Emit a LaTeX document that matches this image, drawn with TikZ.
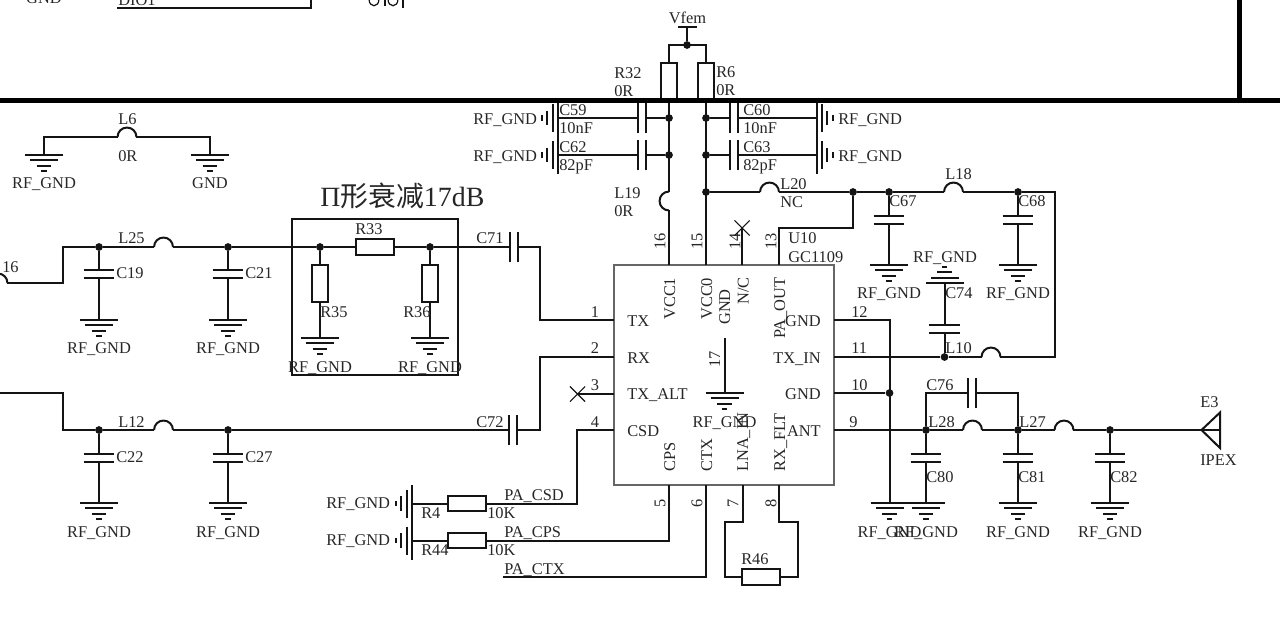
\documentclass[tikz,border=0pt]{standalone}
\usepackage{fontspec}
\setmainfont{Liberation Serif}
\newfontfamily\cjk{Noto Sans CJK SC}
\usetikzlibrary{shapes.misc}
\definecolor{ink}{HTML}{141414}
\definecolor{txt}{HTML}{262626}
\definecolor{icgray}{HTML}{666666}
\makeatletter
\pgfdeclareshape{capsym}{
  \anchor{center}{\pgfpointorigin}
  \anchor{text}{\pgfpointorigin}
  \anchor{a}{\pgfqpoint{0pt}{3pt}}
  \anchor{b}{\pgfqpoint{0pt}{-3pt}}
  \backgroundpath{
    \pgfpathmoveto{\pgfqpoint{-11.6pt}{3pt}}\pgfpathlineto{\pgfqpoint{11.6pt}{3pt}}
    \pgfpathmoveto{\pgfqpoint{-11.6pt}{-3pt}}\pgfpathlineto{\pgfqpoint{11.6pt}{-3pt}}
  }
}
\pgfdeclareshape{indsym}{
  \anchor{center}{\pgfpointorigin}
  \anchor{text}{\pgfpointorigin}
  \anchor{west}{\pgfqpoint{-7.1pt}{0pt}}
  \anchor{east}{\pgfqpoint{7.1pt}{0pt}}
  \backgroundpath{
    \pgfpathmoveto{\pgfqpoint{-7.1pt}{0pt}}
    \pgfpatharc{180}{0}{7.1pt}
  }
}
\pgfdeclareshape{gndsym}{
  \anchor{center}{\pgfpointorigin}
  \anchor{text}{\pgfpointorigin}
  \backgroundpath{
    \pgfpathmoveto{\pgfqpoint{-14.25pt}{0pt}}\pgfpathlineto{\pgfqpoint{14.25pt}{0pt}}
    \pgfpathmoveto{\pgfqpoint{-10.5pt}{-3.9pt}}\pgfpathlineto{\pgfqpoint{10.5pt}{-3.9pt}}
    \pgfpathmoveto{\pgfqpoint{-5.6pt}{-8.2pt}}\pgfpathlineto{\pgfqpoint{5.6pt}{-8.2pt}}
    \pgfpathmoveto{\pgfqpoint{-1.9pt}{-12pt}}\pgfpathlineto{\pgfqpoint{1.9pt}{-12pt}}
  }
}
\makeatother
\tikzset{
  wire/.style={draw=ink,line width=1.5pt,line join=miter},
  bus/.style={draw=black,line width=3.75pt},
  dot/.style={circle,fill=ink,inner sep=0pt,minimum size=5.8pt},
  capv/.style={shape=capsym,draw=ink,line width=1.5pt},
  caph/.style={capv,rotate=90},
  indh/.style={shape=indsym,draw=ink,line width=1.5pt},
  indv/.style={indh,rotate=90},
  gnd/.style={shape=gndsym,draw=ink,line width=1.5pt},
  resv/.style={rectangle,draw=ink,fill=white,line width=1.5pt,inner sep=0pt,minimum width=11.4pt,minimum height=28pt},
  resh/.style={rectangle,draw=ink,fill=white,line width=1.5pt,inner sep=0pt,minimum width=28.5pt,minimum height=11.4pt},
  nc/.style={cross out,draw=ink,line width=.8pt,inner sep=0pt,minimum size=10.5pt},
  tl/.style={anchor=base west,inner sep=0pt,text=txt,font=\fontsize{12.3}{14}\selectfont},
  tc/.style={tl,anchor=base},
  tr/.style={tl,anchor=base east},
  tv/.style={tl,rotate=90},
  tm/.style={tl,anchor=center,rotate=90},
}
\begin{document}
\begin{tikzpicture}[x=0.75pt,y=-0.75pt]
\useasboundingbox (0,0) rectangle (1280,643);

% --- top fragments
\coordinate (topA) at (117,8); \coordinate (topB) at (311,8); \coordinate (topC) at (311,-2);
\draw[wire] (topA) -- (topB) -- (topC);
\node[tc] (fragGND) at (44,3) {GND};
\node[tl] (fragDIO) at (118,5) {DIO1};
\draw[draw=ink,line width=.9pt] (369,-1) .. controls (369,8) and (379,8) .. (379,-1);
\draw[draw=ink,line width=.9pt] (388,-1) .. controls (388,8) and (398,8) .. (398,-1);
\draw[draw=ink,line width=.9pt] (385,-1) -- (385,6);
\draw[draw=ink,line width=.9pt] (403,-1) -- (403,8);

% --- IC
\node[rectangle,draw=icgray,fill=white,line width=1.5pt,minimum size=165pt,inner sep=0pt] (ic) at (724,375) {};

% --- Vfem and supply
\coordinate (vbarL) at (678,27); \coordinate (vbarR) at (697,27); \coordinate (vtop) at (687,27);
\node[dot] (dV) at (687,45) {};
\coordinate (vL) at (669,45); \coordinate (vR) at (706,45);
\node[resv] (R32) at (669,81.5) {};
\node[resv] (R6) at (706,81.5) {};
\draw[wire] (vbarL) -- (vbarR);
\draw[wire] (vtop) -- (dV);
\draw[wire] (R32.north) -- (vL) -- (vR) -- (R6.north);
\node[tc] (tVfem) at (687.5,23) {Vfem};
\node[tl] (tR32) at (614,78) {R32};
\node[tl] (tR32v) at (614,96) {0R};
\node[tl] (tR6) at (716,77) {R6};
\node[tl] (tR6v) at (716,95) {0R};

% pins top
\coordinate (p16) at (669,265); \coordinate (p15) at (706,265); \coordinate (p14) at (742,265); \coordinate (p13) at (779,265);
\coordinate (busL) at (669,100); \coordinate (busR) at (706,100);
\node[indv] (L19) at (669,201) {};
\node[dot] (d59) at (669,118) {};
\node[dot] (d62) at (669,155) {};
\node[dot] (d60) at (706,118) {};
\node[dot] (d63) at (706,155) {};
\node[dot] (d20) at (706,192) {};
\draw[wire] (busL) -- (L19.east);
\draw[wire] (L19.west) -- (p16);
\draw[wire] (busR) -- (p15);
\node[tl] (tL19) at (614,198) {L19};
\node[tl] (tL19v) at (614,216) {0R};

% supply caps
\node[caph] (C59) at (641.5,118) {};
\node[caph] (C62) at (641.5,155) {};
\node[caph] (C60) at (733.5,118) {};
\node[caph] (C63) at (733.5,155) {};
\node[gnd,rotate=-90] (g59) at (558,118) {};
\node[gnd,rotate=-90] (g62) at (558,155) {};
\node[gnd,rotate=90] (g60) at (816.5,118) {};
\node[gnd,rotate=90] (g63) at (816.5,155) {};
\draw[wire] (d59) -- (C59.b); \draw[wire] (C59.a) -- (g59.center);
\draw[wire] (d62) -- (C62.b); \draw[wire] (C62.a) -- (g62.center);
\draw[wire] (d60) -- (C60.a); \draw[wire] (C60.b) -- (g60.center);
\draw[wire] (d63) -- (C63.a); \draw[wire] (C63.b) -- (g63.center);
\node[tl] (tC59) at (559,115) {C59};
\node[tl] (tC59v) at (559,133) {10nF};
\node[tl] (tC62) at (559,152) {C62};
\node[tl] (tC62v) at (559,170) {82pF};
\node[tl] (tC60) at (743,115) {C60};
\node[tl] (tC60v) at (743,133) {10nF};
\node[tl] (tC63) at (743,152) {C63};
\node[tl] (tC63v) at (743,170) {82pF};
\node[tl] (tg59) at (473,124) {RF\_GND};
\node[tl] (tg62) at (473,161) {RF\_GND};
\node[tl] (tg60) at (838,124) {RF\_GND};
\node[tl] (tg63) at (838,161) {RF\_GND};

% thick bars
\coordinate (barL) at (0,100); \coordinate (barR) at (1280,100);
\coordinate (bar2T) at (1239,0); \coordinate (bar2B) at (1239,100);
\draw[bus] (barL) -- (barR);
\draw[bus] (bar2T) -- (bar2B);

% --- L6
\node[gnd] (g6a) at (44,155) {};
\node[gnd] (g6b) at (210,155) {};
\node[indh] (L6) at (127,137) {};
\coordinate (l6a) at (44,137); \coordinate (l6b) at (210,137);
\draw[wire] (g6a.center) -- (l6a) -- (L6.west);
\draw[wire] (L6.east) -- (l6b) -- (g6b.center);
\node[tl] (tL6) at (118,124) {L6};
\node[tl] (tL6v) at (118,161) {0R};
\node[tc] (tg6a) at (44,188) {RF\_GND};
\node[tc] (tg6b) at (210,188) {GND};

% --- TX chain
\node[tl,font=\fontsize{20.9}{24}\selectfont] (title) at (320,206) {Π{\cjk 形衰减}17dB};
\node[rectangle,draw=ink,line width=1.5pt,minimum width=124.5pt,minimum height=117pt,inner sep=0pt] (pibox) at (375,297) {};
\node[indh] (Lfrag) at (-2,283) {};
\coordinate (a1) at (63,283); \coordinate (a2) at (63,247);
\node[dot] (d19) at (99,247) {};
\node[indh] (L25) at (163.5,247) {};
\node[dot] (d21) at (228,247) {};
\node[dot] (d35) at (320,247) {};
\node[resh] (R33) at (375,247) {};
\node[dot] (d36) at (430,247) {};
\node[caph] (C71) at (513.5,247) {};
\coordinate (a3) at (540,247); \coordinate (a4) at (540,320); \coordinate (p1) at (614,320);
\draw[wire] (Lfrag.east) -- (a1) -- (a2) -- (d19);
\draw[wire] (d19) -- (L25.west);
\draw[wire] (L25.east) -- (d21);
\draw[wire] (d21) -- (d35);
\draw[wire] (d35) -- (R33.west);
\draw[wire] (R33.east) -- (d36);
\draw[wire] (d36) -- (C71.a);
\draw[wire] (C71.b) -- (a3) -- (a4) -- (p1);
\node[tl] (t16) at (2,272) {16};
\node[tl] (tL25) at (118,243) {L25};
\node[tl] (tR33) at (355,234) {R33};
\node[tl] (tC71) at (476,243) {C71};

\node[capv] (C19) at (99,274) {};
\node[capv] (C21) at (228,274) {};
\node[gnd] (g19) at (99,320) {};
\node[gnd] (g21) at (228,320) {};
\draw[wire] (d19) -- (C19.a); \draw[wire] (C19.b) -- (g19.center);
\draw[wire] (d21) -- (C21.a); \draw[wire] (C21.b) -- (g21.center);
\node[tl] (tC19) at (116,278) {C19};
\node[tl] (tC21) at (245,278) {C21};
\node[tc] (tg19) at (99,353) {RF\_GND};
\node[tc] (tg21) at (228,353) {RF\_GND};

\node[resv] (R35) at (320,283.5) {};
\node[resv] (R36) at (430,283.5) {};
\node[gnd] (g35) at (320,338) {};
\node[gnd] (g36) at (430,338) {};
\draw[wire] (d35) -- (R35.north); \draw[wire] (R35.south) -- (g35.center);
\draw[wire] (d36) -- (R36.north); \draw[wire] (R36.south) -- (g36.center);
\node[tl] (tR35) at (320,317) {R35};
\node[tl] (tR36) at (403,317) {R36};
\node[tc] (tg35) at (320,372) {RF\_GND};
\node[tc] (tg36) at (430,372) {RF\_GND};

% --- RX chain
\coordinate (b0) at (0,393); \coordinate (b1) at (63,393); \coordinate (b2) at (63,430);
\node[dot] (d22) at (99,430) {};
\node[indh] (L12) at (163.5,430) {};
\node[dot] (d27) at (228,430) {};
\node[caph] (C72) at (512.5,430) {};
\coordinate (b3) at (540,430); \coordinate (b4) at (540,357); \coordinate (p2) at (614,357);
\draw[wire] (b0) -- (b1) -- (b2) -- (d22);
\draw[wire] (d22) -- (L12.west);
\draw[wire] (L12.east) -- (d27);
\draw[wire] (d27) -- (C72.a);
\draw[wire] (C72.b) -- (b3) -- (b4) -- (p2);
\node[tl] (tL12) at (118,427) {L12};
\node[tl] (tC72) at (476,427) {C72};
\node[capv] (C22) at (99,458) {};
\node[capv] (C27) at (228,458) {};
\node[gnd] (g22) at (99,503) {};
\node[gnd] (g27) at (228,503) {};
\draw[wire] (d22) -- (C22.a); \draw[wire] (C22.b) -- (g22.center);
\draw[wire] (d27) -- (C27.a); \draw[wire] (C27.b) -- (g27.center);
\node[tl] (tC22) at (116,462) {C22};
\node[tl] (tC27) at (245,462) {C27};
\node[tc] (tg22) at (99,537) {RF\_GND};
\node[tc] (tg27) at (228,537) {RF\_GND};

% --- IC left pins 3,4 and resistors
\coordinate (p3) at (614,394); \coordinate (p4) at (614,430);
\node[nc] (x3) at (577.5,394) {};
\draw[wire] (x3.center) -- (p3);
\coordinate (c1) at (577,430); \coordinate (c2) at (577,503.5);
\node[resh] (R4) at (467,503.5) {};
\node[resh] (R44) at (467,540.5) {};
\node[gnd,rotate=-90] (g4) at (412,503.5) {};
\node[gnd,rotate=-90] (g44) at (412,540.5) {};
\coordinate (p5b) at (669,485); \coordinate (p5c) at (669,540.5);
\coordinate (p6b) at (706,485); \coordinate (p6c) at (706,577); \coordinate (ctxL) at (503,577);
\draw[wire] (p4) -- (c1) -- (c2) -- (R4.east);
\draw[wire] (R4.west) -- (g4.center);
\draw[wire] (p5b) -- (p5c) -- (R44.east);
\draw[wire] (R44.west) -- (g44.center);
\draw[wire] (p6b) -- (p6c) -- (ctxL);
\node[tl] (tg4) at (326,508) {RF\_GND};
\node[tl] (tg44) at (326,545) {RF\_GND};
\node[tl] (tR4) at (421,518) {R4};
\node[tl] (tR44) at (421,555) {R44};
\node[tl] (tR4v) at (487,518) {10K};
\node[tl] (tR44v) at (487,555) {10K};
\node[tl] (tCSD) at (504,500) {PA\_CSD};
\node[tl] (tCPS) at (504,537) {PA\_CPS};
\node[tl] (tCTX) at (504,574) {PA\_CTX};

% --- pins 7,8 and R46
\coordinate (p7) at (742.5,485); \coordinate (p7a) at (742.5,522); \coordinate (p7b) at (724.5,522); \coordinate (p7c) at (724.5,577);
\coordinate (p8) at (779,485); \coordinate (p8a) at (779,522); \coordinate (p8b) at (797.5,522); \coordinate (p8c) at (797.5,577);
\node[resh] (R46) at (761,577) {};
\draw[wire] (p7) -- (p7a) -- (p7b) -- (p7c) -- (R46.west);
\draw[wire] (p8) -- (p8a) -- (p8b) -- (p8c) -- (R46.east);
\node[tl] (tR46) at (741,564) {R46};

% --- IC pin numbers
\node[tc] (n1) at (595,317) {1};
\node[tc] (n2) at (595,353) {2};
\node[tc] (n3) at (595,390) {3};
\node[tc] (n4) at (595,427) {4};
\node[tl] (n12) at (851,317) {12};
\node[tl] (n11) at (851,353) {11};
\node[tl] (n10) at (851,390) {10};
\node[tl] (n9) at (849,427) {9};
\node[tm] (n16) at (660,241) {16};
\node[tm] (n15) at (697,241) {15};
\node[tm] (n14) at (735,241) {14};
\node[tm] (n13) at (771,241) {13};
\node[tm] (n5) at (660,503) {5};
\node[tm] (n6) at (697,503) {6};
\node[tm] (n7) at (733,503) {7};
\node[tm] (n8) at (771,503) {8};

% --- IC inner labels
\node[tl] (iTX) at (627,326) {TX};
\node[tl] (iRX) at (627,363) {RX};
\node[tl] (iALT) at (627,399) {TX\_ALT};
\node[tl] (iCSD) at (627,436) {CSD};
\node[tr] (iG12) at (821,326) {GND};
\node[tr] (iIN) at (821,363) {TX\_IN};
\node[tr] (iG10) at (821,399) {GND};
\node[tr] (iANT) at (821,436) {ANT};
\node[tv] (iV1) at (675,320) {VCC1};
\node[tv] (iV0) at (712,320) {VCC0};
\node[tv] (iGND) at (730,325) {GND};
\node[tv] (iNC) at (748.5,305) {N/C};
\node[tv] (iOUT) at (785,339) {PA\_OUT};
\node[tv] (iCPS) at (675,472) {CPS};
\node[tv] (iCTX) at (712,472) {CTX};
\node[tv] (iLNA) at (748,472) {LNA\_IN};
\node[tv] (iFLT) at (785,472) {RX\_FLT};
\node[tv] (i17) at (720,368) {17};
\coordinate (p17) at (724.5,338);
\node[gnd] (g17) at (724.5,393) {};
\draw[wire] (p17) -- (g17.center);
\node[tc] (tg17) at (724.5,427) {RF\_GND};
\node[tl] (tU10) at (788,243) {U10};
\node[tl] (tGC) at (788,262) {GC1109};

% --- pin 14, L20 and TX_IN network
\node[nc] (x14) at (742,228) {};
\draw[wire] (p14) -- (x14.center);
\node[indh] (L20) at (769.5,192) {};
\node[dot] (d53) at (853,192) {};
\node[dot] (d67) at (889,192) {};
\node[indh] (L18) at (953.5,192) {};
\node[dot] (d68) at (1018,192) {};
\coordinate (e1) at (1055,192); \coordinate (e2) at (1055,357);
\node[indh] (L10) at (991,357) {};
\node[dot] (d74) at (944.5,357) {};
\coordinate (p11) at (834,357);
\coordinate (f1) at (853,228); \coordinate (f2) at (779,228);
\draw[wire] (d20) -- (L20.west);
\draw[wire] (L20.east) -- (d53);
\draw[wire] (d53) -- (d67);
\draw[wire] (d67) -- (L18.west);
\draw[wire] (L18.east) -- (d68);
\draw[wire] (d68) -- (e1) -- (e2) -- (L10.east);
\draw[wire] (L10.west) -- (d74);
\draw[wire] (d74) -- (p11);
\draw[wire] (d53) -- (f1) -- (f2) -- (p13);
\node[tl] (tL20) at (780,189) {L20};
\node[tl] (tL20v) at (780,207) {NC};
\node[tl] (tL18) at (945,179) {L18};
\node[tl] (tL10) at (945,353) {L10};
\node[capv] (C67) at (889,220) {};
\node[capv] (C68) at (1018,220) {};
\node[gnd] (g67) at (889,265) {};
\node[gnd] (g68) at (1018,265) {};
\draw[wire] (d67) -- (C67.a); \draw[wire] (C67.b) -- (g67.center);
\draw[wire] (d68) -- (C68.a); \draw[wire] (C68.b) -- (g68.center);
\node[tl] (tC67) at (889,206) {C67};
\node[tl] (tC68) at (1018,206) {C68};
\node[tc] (tg67) at (889,298) {RF\_GND};
\node[tc] (tg68) at (1018,298) {RF\_GND};
\node[capv] (C74) at (944.5,329) {};
\node[gnd,rotate=180] (g74) at (944.5,283) {};
\draw[wire] (d74) -- (C74.b); \draw[wire] (C74.a) -- (g74.center);
\node[tl] (tC74) at (945,298) {C74};
\node[tc] (tg74) at (945,262) {RF\_GND};

% --- GND pins 12, 10
\coordinate (p12) at (834,320); \coordinate (h1) at (889.5,320);
\node[gnd] (g12) at (889.5,503) {};
\node[dot] (d10) at (889.5,393) {};
\coordinate (p10) at (834,393);
\draw[wire] (p12) -- (h1) -- (g12.center);
\draw[wire] (p10) -- (d10);
\node[tc] (tg12) at (889.5,537) {RF\_GND};

% --- ANT
\coordinate (p9) at (834,430);
\node[dot] (d80) at (926,430) {};
\node[indh] (L28) at (972.5,430) {};
\node[dot] (d81) at (1018,430) {};
\node[indh] (L27) at (1064,430) {};
\node[dot] (d82) at (1110,430) {};
\coordinate (ant) at (1220,430); \coordinate (antT) at (1220,412.5); \coordinate (antB) at (1220,448); \coordinate (antA) at (1201.5,430);
\draw[wire] (p9) -- (d80);
\draw[wire] (d80) -- (L28.west);
\draw[wire] (L28.east) -- (d81);
\draw[wire] (d81) -- (L27.west);
\draw[wire] (L27.east) -- (d82);
\draw[wire] (d82) -- (ant);
\draw[wire] (antT) -- (antA) -- (antB) -- cycle;
\node[caph] (C76) at (972,393) {};
\coordinate (k1) at (926,393); \coordinate (k2) at (1018,393);
\draw[wire] (d80) -- (k1) -- (C76.a);
\draw[wire] (C76.b) -- (k2) -- (d81);
\node[tl] (tC76) at (926,390) {C76};
\node[tl] (tL28) at (928,427) {L28};
\node[tl] (tL27) at (1019,427) {L27};
\node[tl] (tE3) at (1200,407) {E3};
\node[tl] (tIPEX) at (1200,465) {IPEX};
\node[capv] (C80) at (926,458) {};
\node[capv] (C81) at (1018,458) {};
\node[capv] (C82) at (1110,458) {};
\node[gnd] (g80) at (926,503) {};
\node[gnd] (g81) at (1018,503) {};
\node[gnd] (g82) at (1110,503) {};
\draw[wire] (d80) -- (C80.a); \draw[wire] (C80.b) -- (g80.center);
\draw[wire] (d81) -- (C81.a); \draw[wire] (C81.b) -- (g81.center);
\draw[wire] (d82) -- (C82.a); \draw[wire] (C82.b) -- (g82.center);
\node[tl] (tC80) at (926,482) {C80};
\node[tl] (tC81) at (1018,482) {C81};
\node[tl] (tC82) at (1110,482) {C82};
\node[tc] (tg80) at (926,537) {RF\_GND};
\node[tc] (tg81) at (1018,537) {RF\_GND};
\node[tc] (tg82) at (1110,537) {RF\_GND};
\end{tikzpicture}
\end{document}
